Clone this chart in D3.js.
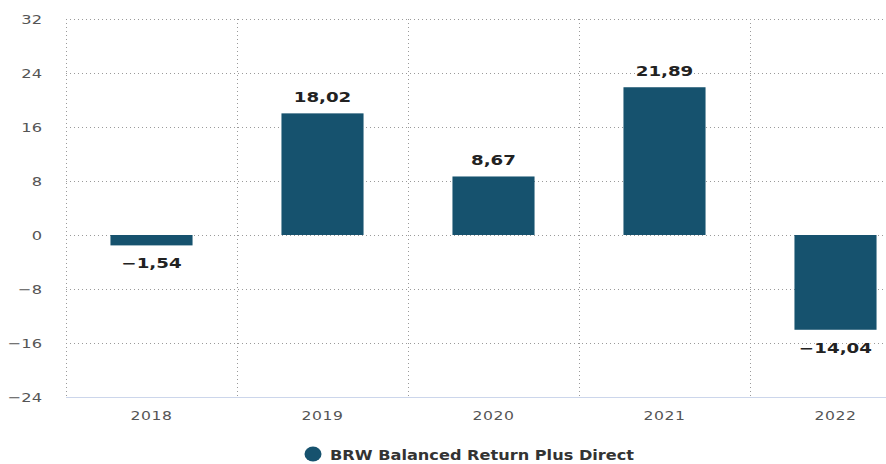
<!DOCTYPE html>
<html>
<head>
<meta charset="utf-8">
<script src="https://cdn.jsdelivr.net/npm/d3@7"></script>
<style>
  body { margin: 0; background: #fff; }
  svg { display: block; font-family: "DejaVu Sans", Verdana, sans-serif; }
</style>
</head>
<body>
<div id="chart"></div>
<script>
// DATA
const years = ["2018", "2019", "2020", "2021", "2022"];
const returns = [-1.54, 18.02, 8.67, 21.89, -14.04];
const yTicks = [-24, -16, -8, 0, 8, 16, 24, 32];
const seriesName = "BRW Balanced Return Plus Direct";

const width = 886, height = 464;
const margin = {top: 19, left: 66, bottom: 67};
const barColor = "#16526e";
const step = 171;

const svg = d3.select("#chart").append("svg")
    .attr("width", width)
    .attr("height", height);

// the reference text looks stretched sideways, so squash/stretch with scaleX
const place = (x, y, sx) => `translate(${x},${y}) scale(${sx},1)`;

// SCALES
const xScale = d3.scaleBand()
    .domain(years)
    .range([margin.left, margin.left + step * years.length])
    .paddingInner(0.52)
    .paddingOuter(0.26);

const yScale = d3.scaleLinear()
    .domain([-24, 32])
    .range([height - margin.bottom, margin.top]);

// GRID - horizontal
svg.append("g").selectAll("line")
    .data(yTicks.filter(d => d !== -24))
    .join("line")
    .attr("x1", margin.left)
    .attr("x2", width)
    .attr("y1", d => Math.round(yScale(d)) + 0.5)
    .attr("y2", d => Math.round(yScale(d)) + 0.5)
    .attr("stroke", "#9a9a9a")
    .attr("stroke-dasharray", "1,3");

// GRID - vertical, at category boundaries
svg.append("g").selectAll("line")
    .data(d3.range(years.length))
    .join("line")
    .attr("x1", i => margin.left + i * step + 0.5)
    .attr("x2", i => margin.left + i * step + 0.5)
    .attr("y1", yScale(32))
    .attr("y2", yScale(-24))
    .attr("stroke", "#9a9a9a")
    .attr("stroke-dasharray", "1,3");

// x axis line
svg.append("line")
    .attr("x1", margin.left)
    .attr("x2", width)
    .attr("y1", Math.round(yScale(-24)) + 0.5)
    .attr("y2", Math.round(yScale(-24)) + 0.5)
    .attr("stroke", "#ccd6eb");

// BARS
svg.append("g").selectAll("rect")
    .data(returns)
    .join("rect")
    .attr("x", (d, i) => xScale(years[i]))
    .attr("width", xScale.bandwidth())
    .attr("y", d => yScale(Math.max(0, d)))
    .attr("height", d => Math.abs(yScale(d) - yScale(0)))
    .attr("fill", barColor);

// VALUE LABELS
svg.append("g").selectAll("text")
    .data(returns)
    .join("text")
    .attr("transform", (d, i) => place(
        xScale(years[i]) + xScale.bandwidth() / 2,
        d >= 0 ? yScale(d) - 11 : yScale(d) + 23, 1.3))
    .attr("text-anchor", "middle")
    .attr("font-size", 14)
    .attr("font-weight", "bold")
    .attr("fill", "#222")
    .attr("stroke", "#fff")
    .attr("stroke-width", 2)
    .attr("paint-order", "stroke")
    .text(d => d3.format(".2f")(d).replace(".", ",").replace("-", "\u2212"));

// Y AXIS LABELS
svg.append("g").selectAll("text")
    .data(yTicks)
    .join("text")
    .attr("transform", d => place(42, yScale(d) + 5, 1.25))
    .attr("text-anchor", "end")
    .attr("font-size", 13)
    .attr("fill", "#555")
    .text(d => String(d).replace("-", "\u2212"));

// X AXIS LABELS
svg.append("g").selectAll("text")
    .data(years)
    .join("text")
    .attr("transform", d => place(xScale(d) + xScale.bandwidth() / 2, 420, 1.2))
    .attr("text-anchor", "middle")
    .attr("font-size", 13)
    .attr("letter-spacing", 0.5)
    .attr("fill", "#555")
    .text(d => d);

// LEGEND
const legend = svg.append("g");
legend.append("ellipse")
    .attr("cx", 313)
    .attr("cy", 454)
    .attr("rx", 8.5)
    .attr("ry", 7.5)
    .attr("fill", barColor);
legend.append("text")
    .attr("transform", place(330, 460, 1.155))
    .attr("font-size", 14)
    .attr("font-weight", "bold")
    .attr("fill", "#333")
    .text(seriesName);
</script>
</body>
</html>
